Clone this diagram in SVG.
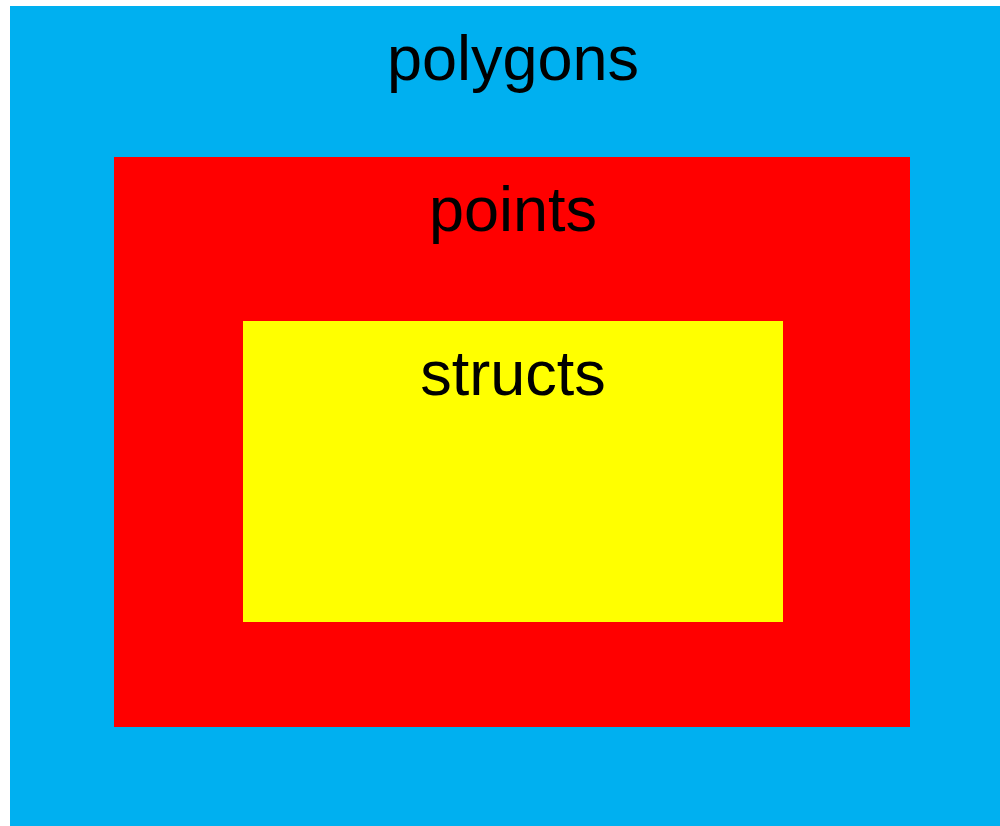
<svg xmlns="http://www.w3.org/2000/svg" width="1000" height="826" viewBox="0 0 1000 826">
  <style>
    .label { font-family: "Liberation Sans", Arial, sans-serif; font-size: 63px; fill: #000; text-anchor: middle; }
  </style>
  <rect width="1000" height="826" fill="#fff"/>
  <g id="polygons">
    <rect x="10" y="6" width="990" height="820" fill="#00b0f0"/>
    <text class="label" x="513" y="80">polygons</text>
  </g>
  <g id="points">
    <rect x="114" y="157" width="796" height="570" fill="#ff0000"/>
    <text class="label" x="513" y="231">points</text>
  </g>
  <g id="structs">
    <rect x="243" y="321" width="540" height="301" fill="#ffff00"/>
    <text class="label" x="513" y="395">structs</text>
  </g>
  <g id="connectors"/>
</svg>
